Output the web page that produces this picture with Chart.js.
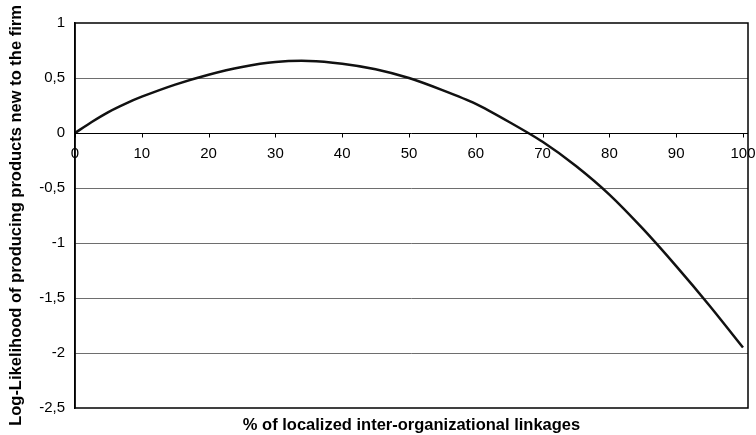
<!DOCTYPE html>
<html><head><meta charset="utf-8">
<script src="https://cdn.jsdelivr.net/npm/chart.js@4/dist/chart.umd.min.js"></script>
<style>html,body{margin:0;padding:0;background:#fff}#wrap{width:756px;height:435px}</style>
</head><body><div id="wrap"><canvas id="c" width="756" height="435"></canvas></div>
<script>
const xValues = [0,2.5,5,7.5,10,15,20,25,30,35,40,45,50,55,60,65,70,75,80,85,90,95,100];
const yValues = [0,0.1,0.19,0.265,0.33,0.44,0.53,0.60,0.645,0.655,0.63,0.58,0.50,0.39,0.265,0.10,-0.08,-0.30,-0.56,-0.87,-1.21,-1.57,-1.95];
const xTickLabels = [0,10,20,30,40,50,60,70,80,90,100];
const yTicks = [1,0.5,0,-0.5,-1,-1.5,-2,-2.5];
const xTitle = '% of localized inter-organizational linkages';
const yTitle = 'Log-Likelihood of producing products new to the firm';

const fmt = v => String(v).replace('.', ',');
const FONT = 'Liberation Sans, Arial, sans-serif';

const axisPlugin = {
  id: 'axisPlugin',
  afterDatasetsDraw(chart) {
    const {ctx, chartArea: a, scales: {x, y}} = chart;
    ctx.save();
    const y0 = Math.round(y.getPixelForValue(0)) + 0.5;
    ctx.strokeStyle = '#000';
    ctx.lineWidth = 1;
    ctx.beginPath();
    ctx.moveTo(a.left, y0); ctx.lineTo(a.right, y0);
    xTickLabels.forEach(t => {
      const px = Math.round(x.getPixelForValue(t)) + 0.5;
      ctx.moveTo(px, y0); ctx.lineTo(px, y0 + 4);
    });
    ctx.stroke();
    ctx.lineWidth = 1.5;
    ctx.strokeRect(a.left, a.top, a.right - a.left, a.bottom - a.top);
    ctx.fillStyle = '#000';
    ctx.font = '15px ' + FONT;
    ctx.textAlign = 'center';
    ctx.textBaseline = 'middle';
    xTickLabels.forEach(t => ctx.fillText(fmt(t), x.getPixelForValue(t), y0 + 20));
    ctx.font = 'bold 16.5px ' + FONT;
    ctx.fillText(xTitle, (a.left + a.right) / 2, 425);
    ctx.restore();
  }
};

new Chart(document.getElementById('c'), {
  type: 'line',
  data: {
    datasets: [{
      data: xValues.map((v, i) => ({x: v, y: yValues[i]})),
      borderColor: '#111',
      borderWidth: 2.5,
      pointRadius: 0,
      tension: 0.25,
      fill: false
    }]
  },
  options: {
    responsive: false,
    animation: false,
    devicePixelRatio: 1,
    layout: {padding: {top: 23, right: 8, bottom: 27, left: 0}},
    plugins: {legend: {display: false}, tooltip: {enabled: false}},
    scales: {
      x: {type: 'linear', display: false, min: 0, max: 100.75},
      y: {
        type: 'linear', min: -2.5, max: 1,
        afterBuildTicks: s => { s.ticks = yTicks.map(v => ({value: v})); },
        afterFit: s => { s.width = 75; },
        ticks: {callback: v => fmt(v), color: '#000', font: {family: FONT, size: 15}, padding: 10},
        grid: {
          drawTicks: false,
          color: c => (c.tick && (c.tick.value === 0 || c.tick.value === 1 || c.tick.value === -2.5)) ? 'rgba(0,0,0,0)' : '#6e6e6e',
          lineWidth: 1
        },
        border: {display: true, color: '#000', width: 1.5},
        title: {display: true, text: yTitle, color: '#000', font: {family: FONT, size: 16.5, weight: 'bold'}, padding: {top: 7, bottom: 0}}
      }
    }
  },
  plugins: [axisPlugin]
});
</script>
</body></html>
